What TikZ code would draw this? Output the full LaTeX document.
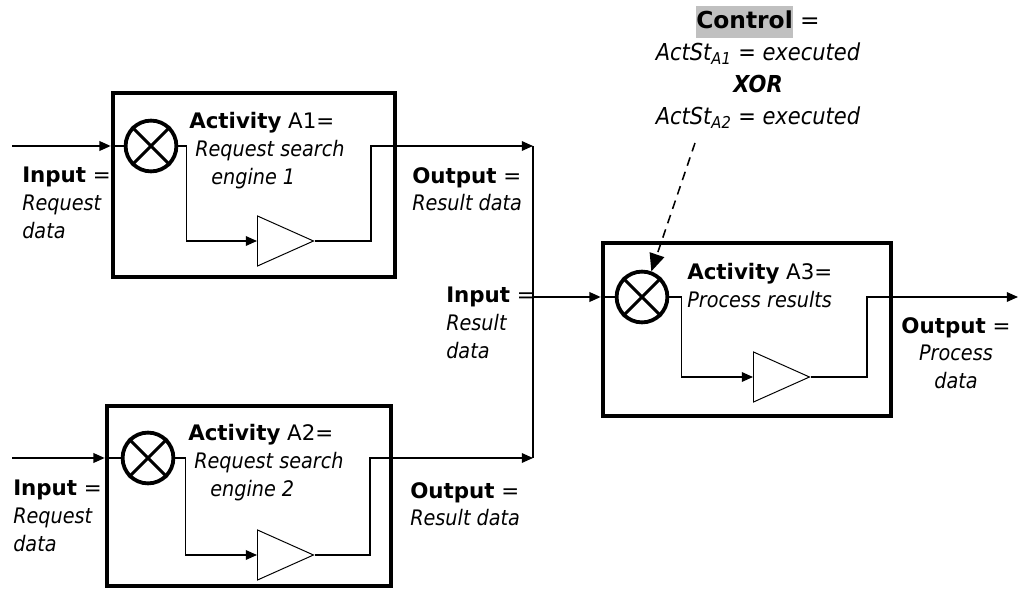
\documentclass[tikz,border=0pt]{standalone}
\usepackage{fontspec}
\setmainfont{DejaVu Sans}[ItalicFeatures={FakeStretch=0.9}, BoldItalicFeatures={FakeStretch=0.9}]
\usetikzlibrary{shapes.geometric, arrows.meta, positioning, calc}
\definecolor{hlgray}{HTML}{C0C0C0}
\newcommand{\diagfont}{\fontsize{15.2pt}{19.8pt}\selectfont}
\newcommand{\ctrlfont}{\fontsize{16.6pt}{0.8cm}\selectfont}

\begin{document}
\begin{tikzpicture}[
    >=Stealth,
    actbox/.style={rectangle, draw=black, line width=3.3pt, inner sep=0pt},
    gate/.style={circle, draw=black, line width=2.7pt, minimum size=1.27cm, inner sep=0pt},
    amp/.style={isosceles triangle, isosceles triangle stretches, draw=black, line width=0.7pt, minimum width=1.25cm, minimum height=1.4cm, inner sep=0pt, anchor=west},
    lbl/.style={anchor=north west, align=left, inner sep=0pt, font=\diagfont},
    arrow/.style={-{Triangle[length=2.8mm, width=2.4mm]}, line width=1.1pt, draw=black},
    link/.style={line width=1.1pt, draw=black},
    ctrlarrow/.style={-{Triangle[length=4.4mm, width=3.8mm]}, line width=1.1pt, dash pattern=on 2.2mm off 1.6mm}
]
\useasboundingbox (0,0) rectangle (25.475,-14.725);

% ACTIVITY BLOCKS
\node[actbox, minimum width=7.05cm, minimum height=4.6cm] (a1) at (6.35,-4.625) {};
\node[actbox, minimum width=7.1cm, minimum height=4.5cm] (a2) at (6.225,-12.4) {};
\node[actbox, minimum width=7.2cm, minimum height=4.325cm] (a3) at (18.675,-8.2375) {};

\node[gate] (g1) at (3.775,-3.65) {};
\node[gate] (g2) at (3.7,-11.45) {};
\node[gate] (g3) at (16.05,-7.425) {};
\foreach \g in {g1,g2,g3}
    \draw[line width=2.1pt] (\g.45) -- (\g.225) (\g.135) -- (\g.315);

\node[amp] (t1) at (6.425,-6.025) {};
\node[amp] (t2) at (6.425,-13.875) {};
\node[amp] (t3) at (18.825,-9.425) {};

\node[lbl] (txt1) at (4.725,-2.8) {\textbf{Activity} A1=\\\hspace*{0.15cm}\textit{Request search}\\\hspace*{0.55cm}\textit{engine 1}};
\node[lbl] (txt2) at (4.7,-10.6) {\textbf{Activity} A2=\\\hspace*{0.15cm}\textit{Request search}\\\hspace*{0.55cm}\textit{engine 2}};
\node[lbl] (txt3) at (17.175,-6.575) {\textbf{Activity} A3=\\\textit{Process results}};

% LABELS
\node[lbl] (in1lbl) at (0.55,-4.175) {\textbf{Input} =\\\textit{Request}\\\textit{data}};
\node[lbl] (in2lbl) at (0.325,-12.0) {\textbf{Input} =\\\textit{Request}\\\textit{data}};
\node[lbl] (out1lbl) at (10.3,-4.175) {\textbf{Output} =\\\textit{Result data}};
\node[lbl] (out2lbl) at (10.25,-12.05) {\textbf{Output} =\\\textit{Result data}};
\node[lbl] (buslbl) at (11.15,-7.175) {\textbf{Input} =\\\textit{Result}\\\textit{data}};
\node[lbl, anchor=north, align=center] (out3lbl) at (23.9,-7.925) {\textbf{Output} =\\\textit{Process}\\\textit{data}};

\node[anchor=north, align=center, inner sep=0pt, font=\ctrlfont] (ctrl) at (18.95,-0.15) {%
    \setlength{\fboxsep}{0pt}\colorbox{hlgray}{\strut\textbf{Control}} =\\
    \textit{ActSt\textsubscript{A1} = executed}\\
    \textbf{\textit{XOR}}\\
    \textit{ActSt\textsubscript{A2} = executed}};

% FREE ENDS
\coordinate (in1) at (0.3,-3.65);
\coordinate (in2) at (0.3,-11.45);
\coordinate (bus1) at (13.325,-3.65);
\coordinate (bus2) at (13.325,-11.45);
\coordinate (out3) at (25.45,-7.425);
\coordinate (ctrlfoot) at (17.375,-3.575);

% CONNECTORS
\draw[arrow] (in1) -- (g1 -| a1.west);
\draw[link] (g1 -| a1.west) -- (g1.west);
\draw[arrow] (g1.east) -- ++(0.2,0) |- (t1.west);
\draw[arrow] (t1.east) -- ++(1.4,0) |- (bus1);

\draw[arrow] (in2) -- (g2 -| a2.west);
\draw[link] (g2 -| a2.west) -- (g2.west);
\draw[arrow] (g2.east) -- ++(0.25,0) |- (t2.west);
\draw[arrow] (t2.east) -- ++(1.375,0) |- (bus2);

\draw[link] (bus1) -- (bus2);
\draw[arrow] (bus1 |- g3) -- (g3 -| a3.west);
\draw[link] (g3 -| a3.west) -- (g3.west);
\draw[arrow] (g3.east) -- ++(0.3,0) |- (t3.west);
\draw[arrow] (t3.east) -- ++(1.4,0) |- (out3);

\draw[ctrlarrow] (ctrlfoot) -- (g3.70);

\end{tikzpicture}
\end{document}
